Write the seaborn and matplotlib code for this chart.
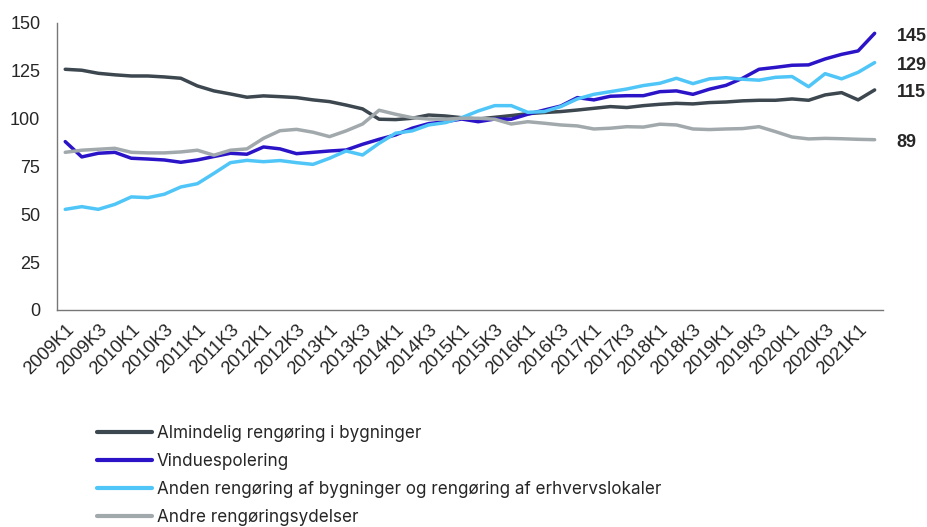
import numpy as np
import pandas as pd
import matplotlib
matplotlib.use("Agg")
import matplotlib.pyplot as plt
import seaborn as sns

# Quarterly index 2009K1 - 2021K2
quarters = [f"{y}K{q}" for y in range(2009, 2022) for q in range(1, 5)][:50]

almindelig = [125.8, 125.3, 123.7, 122.9, 122.3, 122.3, 121.8, 121.1, 117.1, 114.5,
              112.9, 111.2, 111.9, 111.5, 111.0, 109.8, 108.9, 107.1, 105.1, 99.7,
              99.5, 100.2, 101.9, 101.4, 100.5, 99.8, 100.7, 101.6, 102.6, 103.2,
              103.7, 104.5, 105.4, 106.3, 105.8, 106.8, 107.5, 108.0, 107.7, 108.4,
              108.7, 109.3, 109.6, 109.6, 110.3, 109.6, 112.4, 113.6, 109.8, 115.0]
vindues = [88.0, 80.0, 81.9, 82.4, 79.3, 78.9, 78.4, 77.2, 78.4, 80.2,
           81.9, 81.4, 85.2, 84.2, 81.7, 82.4, 83.1, 83.6, 86.6, 89.2,
           91.5, 95.0, 97.4, 98.4, 99.8, 98.4, 99.8, 99.7, 102.3, 104.5,
           106.6, 111.0, 109.8, 111.7, 112.0, 112.0, 114.1, 114.5, 112.7, 115.4,
           117.4, 121.1, 125.8, 126.8, 127.9, 128.1, 131.2, 133.6, 135.4, 144.6]
anden = [52.6, 54.0, 52.6, 55.2, 59.1, 58.7, 60.5, 64.3, 66.0, 71.4,
         77.0, 78.2, 77.5, 78.1, 77.0, 76.1, 79.3, 83.1, 81.0, 87.1,
         92.4, 93.6, 96.7, 97.9, 100.5, 104.0, 106.8, 106.8, 103.3, 103.7,
         106.3, 110.3, 112.7, 114.1, 115.5, 117.3, 118.5, 121.1, 118.3, 120.8,
         121.4, 120.6, 120.1, 121.6, 122.0, 116.7, 123.5, 120.8, 124.2, 129.3]
andre = [82.4, 83.5, 84.0, 84.5, 82.4, 82.1, 82.1, 82.6, 83.5, 80.9,
         83.5, 84.2, 89.7, 93.7, 94.4, 92.9, 90.6, 93.6, 97.2, 104.4,
         102.3, 100.5, 99.8, 99.7, 100.2, 100.2, 99.7, 97.2, 98.4, 97.6,
         96.7, 96.2, 94.6, 95.0, 95.8, 95.6, 97.1, 96.7, 94.6, 94.3,
         94.6, 94.8, 95.8, 93.2, 90.4, 89.4, 89.7, 89.5, 89.2, 89.0]

series_names = ["Almindelig rengøring i bygninger",
                "Vinduespolering",
                "Anden rengøring af bygninger og rengøring af erhvervslokaler",
                "Andre rengøringsydelser"]
end_labels = ["115", "145", "129", "89"]
colors = ["#3C474F", "#2B14C8", "#4FC6F7", "#A2A9AC"]

df = pd.DataFrame({"pos": np.arange(len(quarters)),
                   series_names[0]: almindelig,
                   series_names[1]: vindues,
                   series_names[2]: anden,
                   series_names[3]: andre})
long = df.melt(id_vars="pos", var_name="serie", value_name="indeks")

sns.set_style("white")
plt.rcParams['font.family'] = ['Liberation Sans', 'DejaVu Sans']

fig = plt.figure(figsize=(9.28, 5.27), dpi=100)
ax = fig.add_axes([0.0614, 0.4118, 0.89, 0.5446])

sns.lineplot(data=long, x="pos", y="indeks", hue="serie", hue_order=series_names,
             palette=colors, linewidth=2.5, ax=ax)

ax.set_xlim(-0.5, len(quarters) - 0.5)
ax.set_ylim(0, 150)
ax.set_yticks(np.arange(0, 151, 25))
ax.set_xticks(np.arange(0, len(quarters), 2))
ax.set_xticklabels(quarters[::2], rotation=45, ha="right", rotation_mode="anchor")
ax.set_xticks(np.arange(-0.5, len(quarters), 1), minor=True)
ax.tick_params(axis="x", which="major", length=0, pad=8, labelsize=13.2)
ax.tick_params(axis="x", which="minor", length=5, color="#777777", direction="out")
ax.tick_params(axis="y", length=5, color="#777777", direction="out", labelsize=13, pad=7)
ax.set_xlabel("")
ax.set_ylabel("")

for side in ["top", "right"]:
    ax.spines[side].set_visible(False)
for side in ["left", "bottom"]:
    ax.spines[side].set_color("#777777")
    ax.spines[side].set_linewidth(1)

# end value labels
for vals, lab in zip([almindelig, vindues, anden, andre], end_labels):
    ax.annotate(lab, xy=(len(quarters) - 1, vals[-1]), xytext=(16, -2),
                textcoords="offset points", ha="left", va="center",
                fontsize=13, fontweight="bold", annotation_clip=False)

handles, labels = ax.get_legend_handles_labels()
leg = ax.legend(handles, labels, loc="upper left", bbox_to_anchor=(0.097, 0.206),
                bbox_transform=fig.transFigure, frameon=False,
                prop={"family": ["Inter", "DejaVu Sans"], "size": 12.3},
                handlelength=3.25, handletextpad=0.25, labelspacing=0.64,
                borderaxespad=0)
for line in leg.get_lines():
    line.set_linewidth(3)

fig.savefig("out.png", dpi=100)
